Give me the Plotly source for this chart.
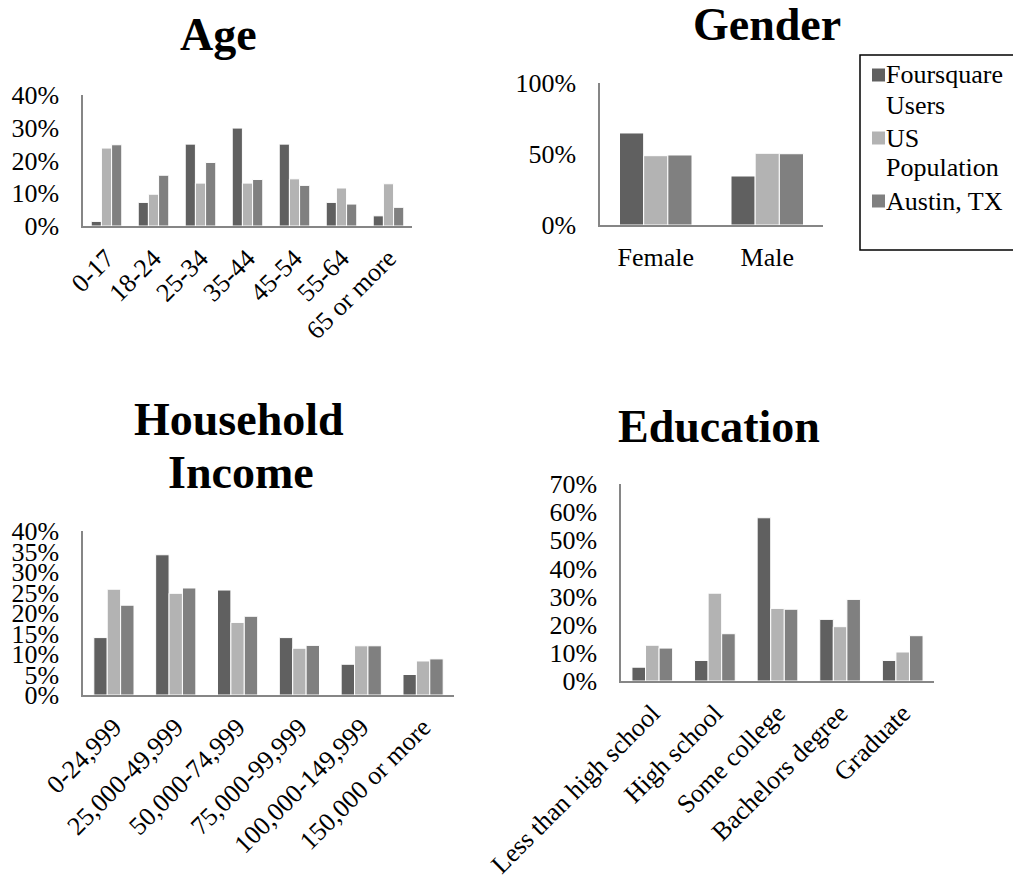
import plotly.graph_objects as go

# ---- data -----------------------------------------------------------------
series_names = ["Foursquare Users", "US Population", "Austin, TX"]
series_colors = ["#606060", "#b3b3b3", "#808080"]

age_groups = ["0-17", "18-24", "25-34", "35-44", "45-54", "55-64", "65 or more"]
age_foursquare = [0.014, 0.072, 0.250, 0.299, 0.250, 0.072, 0.031]
age_us = [0.238, 0.097, 0.131, 0.131, 0.144, 0.116, 0.129]
age_austin = [0.248, 0.155, 0.194, 0.142, 0.124, 0.067, 0.057]

gender_groups = ["Female", "Male"]
gender_foursquare = [0.648, 0.345]
gender_us = [0.488, 0.505]
gender_austin = [0.493, 0.502]

income_groups = ["0-24,999", "25,000-49,999", "50,000-74,999", "75,000-99,999",
                 "100,000-149,999", "150,000 or more"]
income_foursquare = [0.140, 0.342, 0.256, 0.140, 0.075, 0.050]
income_us = [0.258, 0.248, 0.177, 0.114, 0.120, 0.083]
income_austin = [0.219, 0.261, 0.192, 0.121, 0.120, 0.088]

edu_groups = ["Less than high school", "High school", "Some college",
              "Bachelors degree", "Graduate"]
edu_foursquare = [0.049, 0.073, 0.580, 0.219, 0.073]
edu_us = [0.127, 0.312, 0.258, 0.193, 0.103]
edu_austin = [0.117, 0.168, 0.255, 0.290, 0.161]

# ---- figure geometry (pixels) --------------------------------------------
W, H = 1013, 877
FONT = "Liberation Serif, Times New Roman, serif"


def px_x(x):
    return x / W


def px_y(y):
    return 1 - y / H


fig = go.Figure()

panels = [
    # axis suffix, categories, series values, x px span, y px span, y max, dtick, tick angle
    ("", age_groups, [age_foursquare, age_us, age_austin], (83, 412), (95, 226), 0.4, 0.1, -45),
    ("2", gender_groups, [gender_foursquare, gender_us, gender_austin], (600, 823), (83, 225), 1.0, 0.5, 0),
    ("3", income_groups, [income_foursquare, income_us, income_austin], (83, 454), (531, 695), 0.4, 0.05, -45),
    ("4", edu_groups, [edu_foursquare, edu_us, edu_austin], (621, 934), (484, 681), 0.7, 0.1, -45),
]

for suffix, cats, values, (x0, x1), (y0, y1), ymax, dtick, angle in panels:
    for name, color, vals in zip(series_names, series_colors, values):
        fig.add_trace(go.Bar(
            x=cats, y=vals, name=name,
            marker=dict(color=color, line=dict(color="white", width=1)),
            xaxis="x" + suffix, yaxis="y" + suffix,
            showlegend=False,
        ))
    fig.layout["xaxis" + suffix] = dict(
        domain=[px_x(x0), px_x(x1)], anchor="y" + suffix, automargin=False,
        showline=True, linecolor="#868686", linewidth=1.5,
        ticks="", showgrid=False, zeroline=False,
        tickangle=angle, tickfont=dict(family=FONT, size=26, color="black"),
        ticklabelstandoff=5 if angle else 8, fixedrange=True,
    )
    fig.layout["yaxis" + suffix] = dict(
        domain=[px_y(y1), px_y(y0)], anchor="x" + suffix, automargin=False,
        range=[0, ymax], tickmode="linear", tick0=0, dtick=dtick,
        tickformat=".0%", showline=True, linecolor="#868686", linewidth=1.5,
        ticks="", showgrid=False, zeroline=False,
        tickfont=dict(family=FONT, size=26, color="black"),
        ticklabelstandoff=17, fixedrange=True,
    )

# ---- chart titles ---------------------------------------------------------
titles = [("Age", 218, 35), ("Gender", 767, 24), ("Household", 239, 419),
          ("Income", 241, 472), ("Education", 719, 426)]
for text, cx, cy in titles:
    fig.add_annotation(text="<b>%s</b>" % text, x=px_x(cx), y=px_y(cy),
                       xref="paper", yref="paper", xanchor="center", yanchor="middle",
                       showarrow=False, font=dict(family=FONT, size=46, color="black"))

# ---- legend box ----------------------------------------------------------
fig.add_shape(type="rect", xref="paper", yref="paper",
              x0=px_x(860), x1=px_x(1030), y0=px_y(250), y1=px_y(55),
              line=dict(color="black", width=1.5), fillcolor="rgba(0,0,0,0)")
legend_lines = [["Foursquare", "Users"], ["US", "Population"], ["Austin, TX"]]
legend_tops = [75, 138, 201]
for lines, color, cy in zip(legend_lines, series_colors, legend_tops):
    fig.add_shape(type="rect", xref="paper", yref="paper",
                  x0=px_x(872), x1=px_x(885), y0=px_y(cy + 6.5), y1=px_y(cy - 6.5),
                  line=dict(width=0), fillcolor=color)
    for i, line in enumerate(lines):
        fig.add_annotation(text=line, x=px_x(884), y=px_y(cy + 30 * i),
                           xref="paper", yref="paper", xanchor="left", yanchor="middle",
                           showarrow=False, font=dict(family=FONT, size=26, color="black"))

fig.update_layout(
    width=W, height=H, margin=dict(l=0, r=0, t=0, b=0, autoexpand=False),
    paper_bgcolor="white", plot_bgcolor="white",
    barmode="group", bargap=0.35, bargroupgap=0,
    showlegend=False,
)

fig.write_html("out.html")
